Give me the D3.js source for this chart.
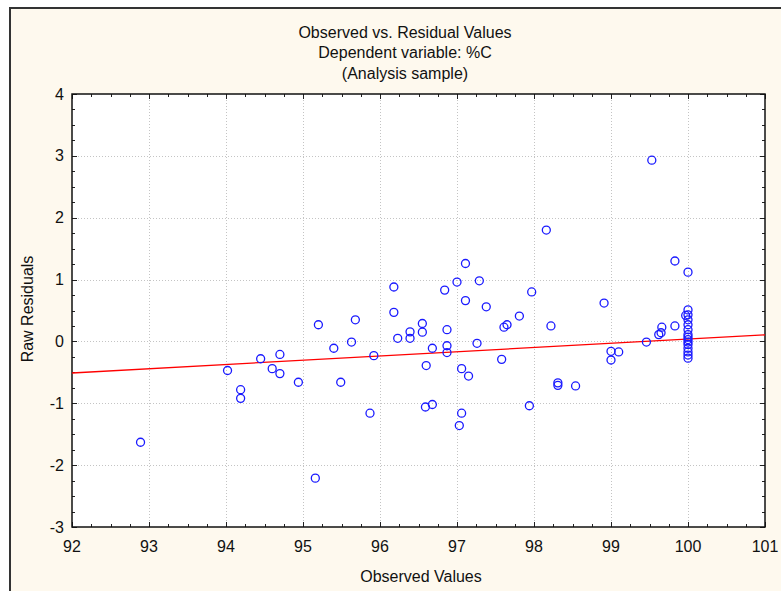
<!DOCTYPE html>
<html>
<head>
<meta charset="utf-8">
<script src="https://cdn.jsdelivr.net/npm/d3@7"></script>
<style>
  body { margin: 0; background: #fff; }
  text { font-family: Arial, "Liberation Sans", sans-serif; fill: #111; }
</style>
</head>
<body>
<div id="chart"></div>
<script>
// observed vs raw residuals
const observed = [
  92.89, 94.02, 94.19, 94.19, 94.45, 94.60, 94.70, 94.70, 94.94, 95.20,
  95.16, 95.40, 95.49, 95.63, 95.68, 95.87, 95.92, 96.18, 96.18, 96.23,
  96.39, 96.39, 96.55, 96.55, 96.68, 96.60, 96.59, 96.68, 96.84, 96.87,
  96.87, 96.87, 97.00, 97.11, 97.11, 97.29, 97.38, 97.06, 97.15, 97.06,
  97.03, 97.26, 97.58, 97.61, 97.65, 97.81, 97.94, 97.97, 98.16, 98.22,
  98.31, 98.31, 98.54, 98.91, 99.00, 99.00, 99.10, 99.46, 99.53, 99.62,
  99.65, 99.66, 99.83, 99.83, 100.0, 99.97,
  100, 100, 100, 100, 100, 100, 100, 100, 100, 100, 100, 100, 100, 100
];
const residuals = [
  -1.63, -0.47, -0.78, -0.92, -0.28, -0.44, -0.21, -0.52, -0.66, 0.27,
  -2.21, -0.11, -0.66, -0.01, 0.35, -1.16, -0.23, 0.88, 0.47, 0.05,
  0.155, 0.05, 0.29, 0.15, -0.11, -0.39, -1.06, -1.02, 0.83, 0.19,
  -0.07, -0.18, 0.96, 1.26, 0.66, 0.98, 0.56, -0.44, -0.56, -1.16,
  -1.36, -0.03, -0.29, 0.23, 0.27, 0.41, -1.04, 0.80, 1.80, 0.25,
  -0.67, -0.71, -0.72, 0.62, -0.16, -0.30, -0.17, -0.01, 2.93, 0.11,
  0.14, 0.23, 0.25, 1.30, 1.12, 0.42,
  0.51, 0.43, 0.35, 0.27, 0.19, 0.11, 0.07, 0.03, -0.01, -0.05, -0.11, -0.17, -0.22, -0.27
];

// fitted line (end points)
const fitX = [92, 101];
const fitY = [-0.51, 0.107];

const xTicks = d3.range(92, 102);
const yTicks = d3.range(-3, 5);
const titleLines = ["Observed vs. Residual Values", "Dependent variable: %C", "(Analysis sample)"];

const W = 781, H = 591;
const plot = { left: 72, right: 765, top: 94, bottom: 527 };

const x = d3.scaleLinear().domain([92, 101]).range([plot.left, plot.right]);
const y = d3.scaleLinear().domain([-3, 4]).range([plot.bottom, plot.top]);

const svg = d3.select("#chart").append("svg")
  .attr("width", W)
  .attr("height", H);

// outer panel
svg.append("rect")
  .attr("x", 10).attr("y", 8)
  .attr("width", W).attr("height", H)
  .attr("fill", "#fef9ee");
svg.append("path")
  .attr("d", `M10,${H}V8H${W}`)
  .attr("fill", "none")
  .attr("stroke", "#333")
  .attr("stroke-width", 2);

// plot area
svg.append("rect")
  .attr("x", plot.left).attr("y", plot.top)
  .attr("width", plot.right - plot.left)
  .attr("height", plot.bottom - plot.top)
  .attr("fill", "#fff");

// grid
const grid = svg.append("g")
  .attr("stroke", "#c4c4c4")
  .attr("stroke-width", 1)
  .attr("stroke-dasharray", "1,2");
grid.selectAll(".gx")
  .data(xTicks.slice(1, -1))
  .join("line")
  .attr("x1", d => Math.round(x(d)) + 0.5).attr("x2", d => Math.round(x(d)) + 0.5)
  .attr("y1", plot.top).attr("y2", plot.bottom);
grid.selectAll(".gy")
  .data(yTicks.slice(1, -1))
  .join("line")
  .attr("y1", d => Math.round(y(d)) + 0.5).attr("y2", d => Math.round(y(d)) + 0.5)
  .attr("x1", plot.left).attr("x2", plot.right);

// ticks on all four sides, pointing in
const minorX = d3.range(92, 101.001, 0.25);
const minorY = d3.range(-3, 4.001, 0.25);
const tickLen = v => Number.isInteger(Math.round(v * 100) / 100) ? 5 : 3;

const ticks = svg.append("g").attr("stroke", "#222").attr("stroke-width", 1);
ticks.selectAll(".tb").data(minorX).join("line")
  .attr("x1", d => Math.round(x(d)) + 0.5).attr("x2", d => Math.round(x(d)) + 0.5)
  .attr("y1", plot.bottom).attr("y2", d => plot.bottom - tickLen(d));
ticks.selectAll(".tt").data(minorX).join("line")
  .attr("x1", d => Math.round(x(d)) + 0.5).attr("x2", d => Math.round(x(d)) + 0.5)
  .attr("y1", plot.top).attr("y2", d => plot.top + tickLen(d));
ticks.selectAll(".tl").data(minorY).join("line")
  .attr("y1", d => Math.round(y(d)) + 0.5).attr("y2", d => Math.round(y(d)) + 0.5)
  .attr("x1", plot.left).attr("x2", d => plot.left + tickLen(d));
ticks.selectAll(".tr").data(minorY).join("line")
  .attr("y1", d => Math.round(y(d)) + 0.5).attr("y2", d => Math.round(y(d)) + 0.5)
  .attr("x1", plot.right).attr("x2", d => plot.right - tickLen(d));

// frame of plot
svg.append("rect")
  .attr("x", plot.left).attr("y", plot.top)
  .attr("width", plot.right - plot.left)
  .attr("height", plot.bottom - plot.top)
  .attr("fill", "none")
  .attr("stroke", "#111")
  .attr("stroke-width", 1.5);

// tick labels
svg.selectAll(".xl").data(xTicks).join("text")
  .attr("x", d => x(d))
  .attr("y", 552)
  .attr("text-anchor", "middle")
  .attr("font-size", 16)
  .text(d => d);
svg.selectAll(".yl").data(yTicks).join("text")
  .attr("x", 64)
  .attr("y", d => y(d) + 5.5)
  .attr("text-anchor", "end")
  .attr("font-size", 16)
  .text(d => d);

// axis titles
svg.append("text")
  .attr("x", 421).attr("y", 582)
  .attr("text-anchor", "middle")
  .attr("font-size", 16)
  .text("Observed Values");
svg.append("text")
  .attr("transform", "translate(33,309) rotate(-90)")
  .attr("text-anchor", "middle")
  .attr("font-size", 16)
  .text("Raw Residuals");

// title
svg.selectAll(".title").data(titleLines).join("text")
  .attr("x", 405)
  .attr("y", (d, i) => 37.5 + i * 20.5)
  .attr("text-anchor", "middle")
  .attr("font-size", 16)
  .text(d => d);

// fitted line
const line = d3.line().x(d => x(d[0])).y(d => y(d[1]));
svg.append("path")
  .datum(fitX.map((v, i) => [v, fitY[i]]))
  .attr("fill", "none")
  .attr("stroke", "#ff0000")
  .attr("stroke-width", 1.3)
  .attr("d", line);

// points
svg.append("g").selectAll("circle")
  .data(observed.map((v, i) => [v, residuals[i]]))
  .join("circle")
  .attr("cx", d => x(d[0]))
  .attr("cy", d => y(d[1]))
  .attr("r", 4)
  .attr("fill", "none")
  .attr("stroke", "#1a1aff")
  .attr("stroke-width", 1.3);
</script>
</body>
</html>
